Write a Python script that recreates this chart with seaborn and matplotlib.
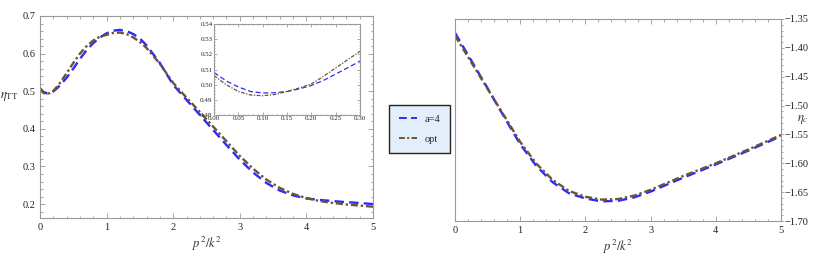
import numpy as np
import pandas as pd
import seaborn as sns
import matplotlib.pyplot as plt
from matplotlib.ticker import MultipleLocator

# eta_TT vs p^2/k^2 (left panel)
x_tt = [0, 0.05, 0.1, 0.15, 0.2, 0.25, 0.3, 0.4, 0.5, 0.6, 0.7, 0.8, 0.9, 1.0, 1.1, 1.2,
        1.3, 1.4, 1.5, 1.6, 1.8, 2.0, 2.2, 2.4, 2.6, 2.8, 3.0, 3.2, 3.4, 3.6, 3.8,
        4.0, 4.2, 4.4, 4.6, 4.8, 5.0]
tt_a4 = [0.508, 0.4985, 0.4945, 0.4955, 0.4995, 0.507, 0.5155, 0.536, 0.560, 0.586, 0.609,
         0.628, 0.643, 0.654, 0.661, 0.663, 0.660, 0.652, 0.640, 0.622, 0.575, 0.517,
         0.477, 0.437, 0.397, 0.357, 0.318, 0.284, 0.256, 0.236, 0.223, 0.215, 0.211,
         0.208, 0.205, 0.203, 0.200]
tt_opt = [0.506, 0.4955, 0.4927, 0.4955, 0.5005, 0.511, 0.522, 0.548, 0.575, 0.600, 0.620,
          0.635, 0.645, 0.650, 0.655, 0.656, 0.652, 0.643, 0.631, 0.615, 0.573, 0.522,
          0.483, 0.445, 0.406, 0.367, 0.328, 0.294, 0.265, 0.243, 0.227, 0.216, 0.208,
          0.203, 0.199, 0.196, 0.193]

# inset (zoom on small p^2/k^2)
x_in = [0, 0.025, 0.05, 0.075, 0.1, 0.125, 0.15, 0.175, 0.2, 0.225, 0.25, 0.275, 0.3]
in_a4 = [0.508, 0.5025, 0.4985, 0.4955, 0.4945, 0.4947, 0.4955, 0.4972, 0.4995, 0.5028,
         0.507, 0.5112, 0.5155]
in_opt = [0.506, 0.5, 0.4955, 0.4932, 0.4927, 0.4935, 0.4955, 0.4978, 0.5005, 0.5055,
          0.511, 0.5165, 0.522]

# eta_c vs p^2/k^2 (right panel)
x_c = [0, 0.25, 0.5, 0.75, 1.0, 1.25, 1.5, 1.75, 2.0, 2.25, 2.5, 2.75, 3.0, 3.5, 4.0, 4.5, 5.0]
c_a4 = [-1.374, -1.422, -1.470, -1.519, -1.567, -1.605, -1.633, -1.652, -1.661, -1.666,
        -1.665, -1.659, -1.649, -1.625, -1.602, -1.578, -1.553]
c_opt = [-1.379, -1.425, -1.471, -1.517, -1.563, -1.601, -1.629, -1.648, -1.658, -1.663,
         -1.662, -1.656, -1.646, -1.622, -1.600, -1.576, -1.551]

labels = ['a=4', 'opt']
colors = {'a=4': '#2b2bff', 'opt': '#6e5434'}
dashes = {'a=4': (4, 2.2), 'opt': (3, 1.2, 1, 1.2)}


def long_df(x, a4, opt):
    return pd.concat([pd.DataFrame({'x': x, 'y': a4, 'curve': 'a=4'}),
                      pd.DataFrame({'x': x, 'y': opt, 'curve': 'opt'})])


sns.set_style('ticks')
plt.rcParams['font.family'] = ['Liberation Serif', 'DejaVu Serif']
plt.rcParams['mathtext.fontset'] = 'stix'
plt.rcParams['axes.edgecolor'] = '#9a9a9a'
plt.rcParams['xtick.color'] = '#9a9a9a'
plt.rcParams['ytick.color'] = '#9a9a9a'
plt.rcParams['xtick.labelcolor'] = '#222222'
plt.rcParams['ytick.labelcolor'] = '#222222'


def style_axes(ax, size=7.5):
    for s in ax.spines.values():
        s.set_linewidth(0.8)
        s.set_visible(True)
    ax.tick_params(which='both', direction='in', top=True, right=True, labelsize=size, width=0.6)
    ax.tick_params(which='major', length=3.5)
    ax.tick_params(which='minor', length=1.8)


fig = plt.figure(figsize=(8.3, 2.6), dpi=100)

# left panel
ax1 = fig.add_axes([40 / 830, 42 / 260, 333 / 830, 202 / 260])
sns.lineplot(data=long_df(x_tt, tt_a4, tt_opt), x='x', y='y', hue='curve', style='curve',
             palette=colors, dashes=dashes, linewidth=1.7, ax=ax1, legend=False)
ax1.set_xlim(0, 5)
ax1.set_ylim(0.163, 0.7)
ax1.xaxis.set_major_locator(MultipleLocator(1))
ax1.xaxis.set_minor_locator(MultipleLocator(0.2))
ax1.yaxis.set_major_locator(MultipleLocator(0.1))
ax1.yaxis.set_minor_locator(MultipleLocator(0.02))
ax1.set_xticklabels([str(int(v)) for v in ax1.get_xticks()])
style_axes(ax1)
ax1.set_xlabel(r'$p^2/k^2$', fontsize=9, color='#333333', labelpad=2)
ax1.set_ylabel(r'$\eta_{\mathrm{TT}}$', fontsize=9, color='#333333', rotation=0)
ax1.yaxis.set_label_coords(-0.093, 0.57)

# inset
axi = fig.add_axes([214 / 830, 145 / 260, 146 / 830, 91 / 260])
sns.lineplot(data=long_df(x_in, in_a4, in_opt), x='x', y='y', hue='curve', style='curve',
             palette=colors, dashes=dashes, linewidth=0.9, ax=axi, legend=False)
axi.set_xlim(0, 0.3)
axi.set_ylim(0.48, 0.54)
axi.xaxis.set_major_locator(MultipleLocator(0.05))
axi.xaxis.set_minor_locator(MultipleLocator(0.01))
axi.yaxis.set_major_locator(MultipleLocator(0.01))
axi.yaxis.set_minor_locator(MultipleLocator(0.002))
axi.xaxis.set_major_formatter('{x:.2f}')
axi.yaxis.set_major_formatter('{x:.2f}')
style_axes(axi, size=5)
axi.tick_params(which='major', length=2, pad=1)
axi.tick_params(which='minor', length=1)
axi.set_xlabel('')
axi.set_ylabel('')

# right panel
ax2 = fig.add_axes([455 / 830, 39 / 260, 326 / 830, 202 / 260])
sns.lineplot(data=long_df(x_c, c_a4, c_opt), x='x', y='y', hue='curve', style='curve',
             palette=colors, dashes=dashes, linewidth=1.7, ax=ax2, legend=False)
ax2.set_xlim(0, 5)
ax2.set_ylim(-1.70, -1.35)
ax2.xaxis.set_major_locator(MultipleLocator(1))
ax2.xaxis.set_minor_locator(MultipleLocator(0.2))
ax2.yaxis.set_major_locator(MultipleLocator(0.05))
ax2.yaxis.set_minor_locator(MultipleLocator(0.01))
ax2.set_xticklabels([str(int(v)) for v in ax2.get_xticks()])
ax2.yaxis.set_major_formatter('{x:.2f}')
style_axes(ax2)
ax2.tick_params(axis='y', which='both', direction='out', left=False, right=True,
                labelleft=False, labelright=True, pad=0.5)
ax2.tick_params(axis='y', which='major', length=2)
ax2.tick_params(axis='y', which='minor', length=1.2)
ax2.set_xlabel(r'$p^2/k^2$', fontsize=9, color='#333333', labelpad=2)
ax2.set_ylabel(r'$\eta_c$', fontsize=9, color='#333333', rotation=0)
ax2.yaxis.set_label_position('right')
ax2.yaxis.set_label_coords(1.068, 0.535)

# shared legend between the panels
handles = [plt.Line2D([], [], color=colors[k], dashes=dashes[k], lw=1.4) for k in labels]
leg = fig.legend(handles, labels, loc='upper left', bbox_to_anchor=(384 / 830, 1 - 100 / 260),
                 frameon=True, fancybox=False, fontsize=7.5, handlelength=1.8,
                 borderpad=0.9, labelspacing=1.0, handletextpad=0.7)
leg.get_frame().set_facecolor('#e2effb')
leg.get_frame().set_edgecolor('#222222')
leg.get_frame().set_linewidth(1.0)
leg.get_frame().set_alpha(1)

fig.savefig('out.png', dpi=100)
